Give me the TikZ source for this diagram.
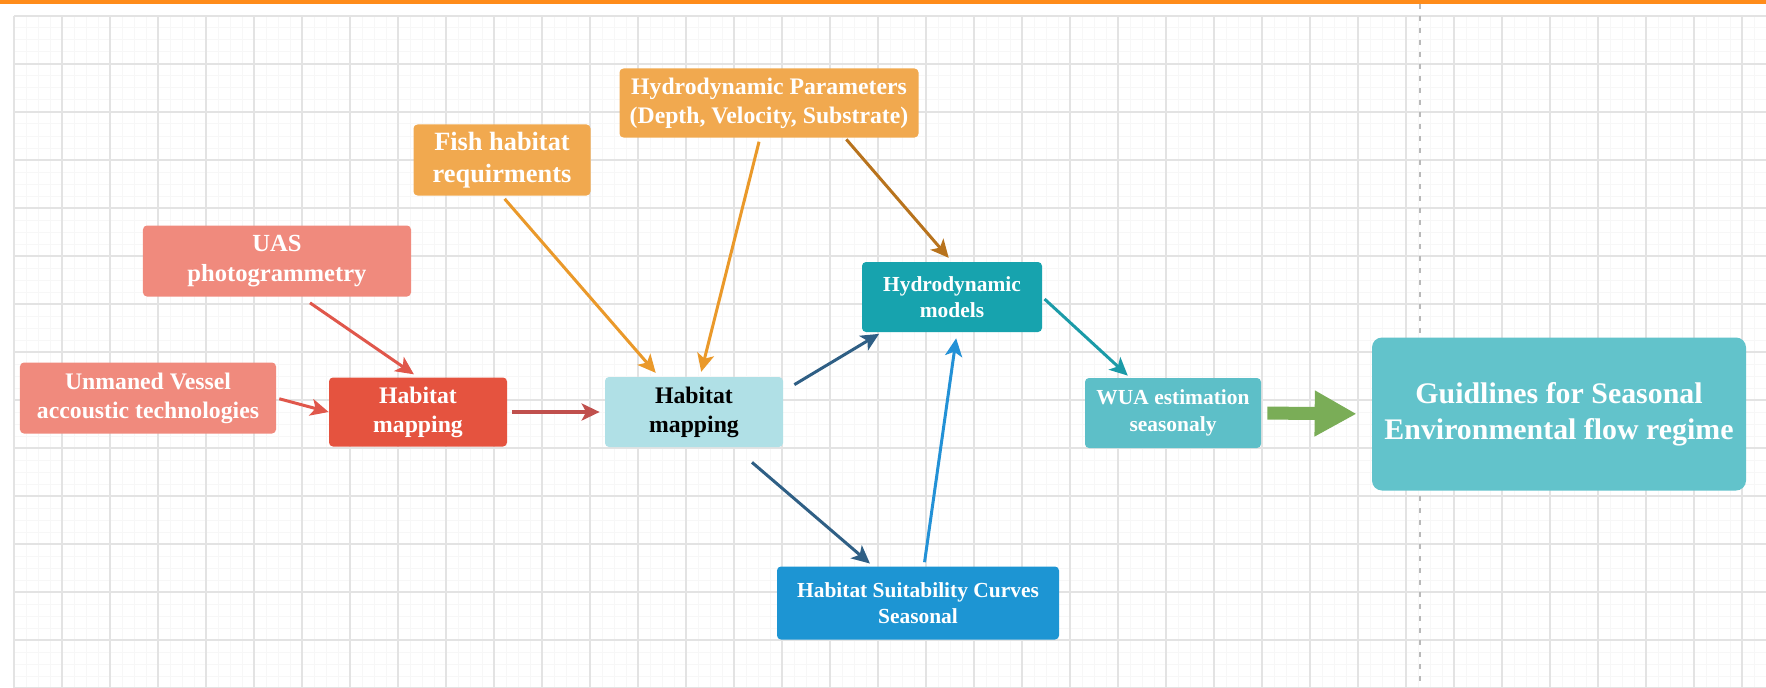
\documentclass[tikz,border=0pt]{standalone}
\usepackage{fontspec}
\setmainfont{Liberation Serif}
\usetikzlibrary{arrows.meta}

\definecolor{topbar}{HTML}{FF8C1A}
\definecolor{gridmajor}{HTML}{E3E3E3}
\definecolor{gridminor}{HTML}{F7F7F7}
\definecolor{salmon}{HTML}{F08A7D}
\definecolor{habred}{HTML}{E5533F}
\definecolor{sand}{HTML}{F1A94F}
\definecolor{paleblue}{HTML}{B0E0E6}
\definecolor{teal}{HTML}{17A3AE}
\definecolor{hscblue}{HTML}{1D95D3}
\definecolor{wuateal}{HTML}{5DBFC8}
\definecolor{guideteal}{HTML}{62C3CB}
\definecolor{linkred}{HTML}{E0574B}
\definecolor{linkmaroon}{HTML}{C0504D}
\definecolor{linkorange}{HTML}{EA992A}
\definecolor{linkbrown}{HTML}{B8731D}
\definecolor{linknavy}{HTML}{2F5F85}
\definecolor{linkblue}{HTML}{2391D6}
\definecolor{linkteal}{HTML}{1B9BA8}
\definecolor{bigarrow}{HTML}{7AAD57}

\newcommand{\boxfont}[2]{\fontsize{#1}{#2}\selectfont\bfseries}

\begin{document}
\begin{tikzpicture}[x=0.2mm,y=-0.2mm,
    box/.style={rounded corners=0.8mm, align=center, text=white, inner sep=0pt},
    link/.style={line width=0.6mm, -{Stealth[length=3.6mm,width=3.4mm,inset=0.9mm]}}]

    \useasboundingbox (0,0) rectangle (1766,688);
    \fill[white] (0,0) rectangle (1766,688);

    % background grid
    \foreach \x in {14,26,...,1766}
      \draw[gridminor, line width=0.2mm] (\x,16) -- (\x,688);
    \foreach \y in {16,28,...,688}
      \draw[gridminor, line width=0.2mm] (14,\y) -- (1766,\y);
    \foreach \x in {14,62,...,1766}
      \draw[gridmajor, line width=0.3mm] (\x,16) -- (\x,688);
    \foreach \y in {16,64,...,688}
      \draw[gridmajor, line width=0.3mm] (14,\y) -- (1766,\y);

    % top bar and page break
    \fill[topbar] (0,0) rectangle (1766,4);
    \draw[gray!55, line width=0.3mm, dash pattern=on 1mm off 1.4mm] (1420,4) -- (1420,688);

    % boxes
    \node[box, fill=salmon, minimum width=51.2mm, minimum height=14.2mm, font=\boxfont{13.5}{16.5}] (unm) at (148,398) {Unmaned Vessel\\accoustic technologies};
    \node[box, fill=salmon, minimum width=53.6mm, minimum height=14.2mm, font=\boxfont{14}{17}] (uas) at (277,261) {UAS\\photogrammetry};
    \node[box, fill=habred, minimum width=35.6mm, minimum height=13.8mm, font=\boxfont{13.5}{16.5}] (hab1) at (418,412) {Habitat\\mapping};
    \node[box, fill=sand, minimum width=35.4mm, minimum height=14.2mm, font=\boxfont{15}{18}] (fish) at (502,160) {Fish habitat\\requirments};
    \node[box, fill=sand, minimum width=59.8mm, minimum height=13.8mm, font=\boxfont{13.5}{16.5}] (params) at (769,103) {Hydrodynamic Parameters\\(Depth, Velocity, Substrate)};
    \node[box, fill=paleblue, text=black, minimum width=35.6mm, minimum height=14mm, font=\boxfont{13.5}{16.5}] (hab2) at (694,412) {Habitat\\mapping};
    \node[box, fill=teal, minimum width=36mm, minimum height=14mm, font=\boxfont{12.2}{15}] (models) at (952,297) {Hydrodynamic\\models};
    \node[box, fill=hscblue, minimum width=56.4mm, minimum height=14.6mm, font=\boxfont{12.2}{14.5}] (hsc) at (918,603) {Habitat Suitability Curves\\Seasonal};
    \node[box, fill=wuateal, minimum width=35.2mm, minimum height=14mm, font=\boxfont{12.2}{15}] (wua) at (1173,413) {WUA estimation\\seasonaly};
    \node[box, fill=guideteal, rounded corners=2mm, minimum width=74.8mm, minimum height=30.6mm, font=\boxfont{17}{20.5}] (guide) at (1559,414) {Guidlines for Seasonal\\Environmental flow regime};

    % links
    \draw[link, linkred, shorten <=0.6mm] (unm.east) -- (hab1.west);
    \draw[link, linkred, shorten >=1mm] ([xshift=6.6mm,yshift=-1.2mm]uas.south) -- (hab1.north);
    \draw[link, linkmaroon, line width=0.9mm, shorten <=1mm, shorten >=1mm] (hab1.east) -- (hab2.west);
    \draw[link, linkorange, shorten <=0.8mm, shorten >=1mm] (fish.south) -- ([xshift=-7mm]hab2.north);
    \draw[link, linkorange, shorten <=0.8mm, shorten >=1mm] ([xshift=-1.8mm]params.south) -- ([xshift=1.2mm]hab2.north);
    \draw[link, linkbrown, shorten <=0.4mm, shorten >=1mm] ([xshift=15.2mm]params.south) -- (models.north);
    \draw[link, linknavy, shorten >=0.6mm] ([xshift=2.2mm,yshift=-1.6mm]hab2.north east) -- ([xshift=4mm]models.south west);
    \draw[link, linknavy, shorten >=0.8mm] ([xshift=11.6mm,yshift=-3mm]hab2.south) -- ([xshift=-9mm]hsc.north);
    \draw[link, linkblue, shorten <=0.8mm, shorten >=1.2mm] ([xshift=1.2mm]hsc.north) -- ([xshift=1mm]models.south);
    \draw[link, linkteal, shorten <=0.6mm, shorten >=0.6mm] (models.east) -- ([xshift=-8.6mm]wua.north);
    \draw[bigarrow, line width=2.6mm, -{Triangle[length=8.4mm,width=8.6mm]}, shorten <=1.2mm, shorten >=3mm] (wua.east) -- (guide.west);
\end{tikzpicture}
\end{document}
